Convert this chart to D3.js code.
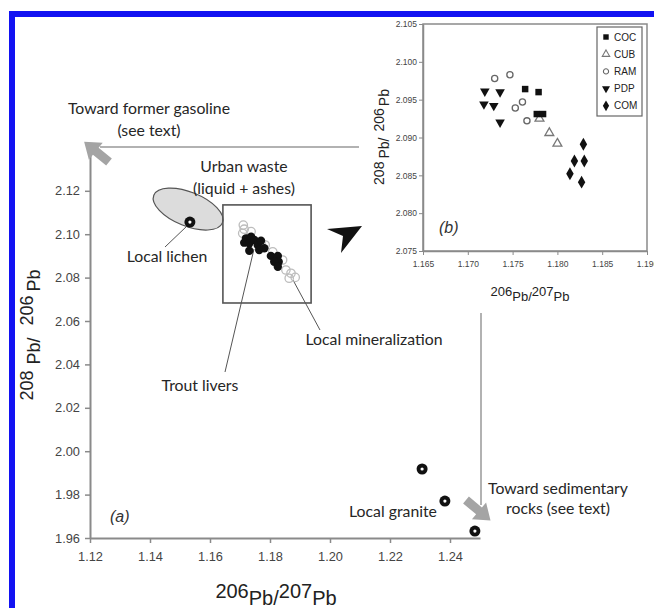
<!DOCTYPE html>
<html>
<head>
<meta charset="utf-8">
<script src="https://cdn.jsdelivr.net/npm/d3@7"></script>
<style>
  html, body { margin: 0; padding: 0; background: #fff; }
  svg { display: block; }
  .tick text { font-family: "Liberation Sans", Arial, sans-serif; fill: #444; }
  .note { font-family: Lato, "Open Sans", sans-serif; fill: #262626; font-size: 15.8px; }
</style>
</head>
<body>
<svg id="chart" width="654" height="608"></svg>
<script>
// main panel (a): 206Pb/207Pb vs 208Pb/206Pb
const mainXTicks = [1.12, 1.14, 1.16, 1.18, 1.20, 1.22, 1.24];
const mainYTicks = [1.96, 1.98, 2.00, 2.02, 2.04, 2.06, 2.08, 2.10, 2.12];

const troutLivers = [
  [1.1720, 2.0981], [1.1737, 2.0988], [1.1714, 2.0961], [1.1731, 2.0958],
  [1.1748, 2.0973], [1.1759, 2.0950], [1.1770, 2.0970], [1.1731, 2.0924],
  [1.1764, 2.0927], [1.1781, 2.0935], [1.1803, 2.0900], [1.1826, 2.0900],
  [1.1829, 2.0873], [1.1814, 2.0873], [1.1826, 2.0850]
];
const mineralization = [
  [1.1711, 2.1042], [1.1714, 2.1023], [1.1709, 2.1004], [1.1737, 2.1012],
  [1.1770, 2.0961], [1.1784, 2.0950], [1.1809, 2.0919], [1.1842, 2.0881],
  [1.1853, 2.0835], [1.1870, 2.0820], [1.1884, 2.0801], [1.1864, 2.0797]
];
const lichen = [[1.1533, 2.1056]];
const granite = [[1.2307, 1.9918], [1.2383, 1.9770], [1.2483, 1.9632]];

// inset panel (b)
const insetXTicks = [1.165, 1.170, 1.175, 1.180, 1.185, 1.190];
const insetYTicks = [2.075, 2.080, 2.085, 2.090, 2.095, 2.100, 2.105];
const sites = ['COC', 'CUB', 'RAM', 'PDP', 'COM'];
const COC = [[1.1764, 2.0964], [1.1779, 2.0960], [1.1777, 2.0931], [1.1784, 2.0931]];
const CUB = [[1.1780, 2.0925], [1.1791, 2.0906], [1.1800, 2.0892]];
const RAM = [[1.1730, 2.0978], [1.1747, 2.0983], [1.1761, 2.0947], [1.1753, 2.0939], [1.1766, 2.0922]];
const PDP = [[1.1719, 2.0961], [1.1736, 2.0960], [1.1718, 2.0944], [1.1729, 2.0942], [1.1736, 2.0920]];
const COM = [[1.1829, 2.0891], [1.1819, 2.0869], [1.1830, 2.0869], [1.1814, 2.0852], [1.1827, 2.0841]];

const svg = d3.select('#chart');

// blue frame, cut off at right and bottom
svg.append('rect')
  .attr('x', 12).attr('y', 14).attr('width', 700).attr('height', 700)
  .attr('fill', 'none').attr('stroke', '#1212f2').attr('stroke-width', 6);

const x = d3.scaleLinear().domain([1.12, 1.25]).range([90, 480]);
const y = d3.scaleLinear().domain([1.96, 2.1365]).range([538, 155]);

const axX = svg.append('g')
  .attr('transform', `translate(0,${y(1.96)})`)
  .call(d3.axisBottom(x).tickValues(mainXTicks).tickFormat(d3.format('.2f')).tickSize(5).tickPadding(9).tickSizeOuter(0));
const axY = svg.append('g')
  .attr('transform', `translate(${x(1.12)},0)`)
  .call(d3.axisLeft(y).tickValues(mainYTicks).tickFormat(d3.format('.2f')).tickSize(5).tickPadding(5).tickSizeOuter(0));
[axX, axY].forEach(a => {
  a.select('.domain').attr('stroke', '#8a8a8a').attr('stroke-width', 2);
  a.selectAll('.tick line').attr('stroke', '#8a8a8a').attr('stroke-width', 1.5);
  a.selectAll('.tick text').attr('font-size', 12.8);
});

// titles
svg.append('text')
  .attr('transform', 'translate(276,598)')
  .attr('text-anchor', 'middle')
  .attr('font-family', '"Liberation Sans", Arial, sans-serif')
  .attr('font-size', 20).attr('fill', '#222')
  .call(t => {
    t.append('tspan').text('206');
    t.append('tspan').attr('dy', 7).text('Pb/');
    t.append('tspan').attr('dy', -7).text('207');
    t.append('tspan').attr('dy', 7).text('Pb');
  });
svg.append('text')
  .attr('transform', 'translate(33,335) rotate(-90)')
  .attr('text-anchor', 'middle')
  .attr('font-family', '"Liberation Sans", Arial, sans-serif')
  .attr('font-size', 18).attr('fill', '#222')
  .call(t => {
    t.append('tspan').text('208');
    t.append('tspan').attr('dx', 6).attr('dy', 7).text('Pb/');
    t.append('tspan').attr('dx', 12).attr('dy', -7).text('206');
    t.append('tspan').attr('dx', 4).attr('dy', 7).text('Pb');
  });

// urban waste field
svg.append('ellipse')
  .attr('transform', `translate(${x(1.1527)},${y(2.1116)}) rotate(22)`)
  .attr('rx', 37).attr('ry', 17)
  .attr('fill', '#dcdcdc').attr('stroke', '#555').attr('stroke-width', 1.2);

// zoom box
const box = {x0: 1.1643, x1: 1.1937, y0: 2.0683, y1: 2.1135};
svg.append('rect')
  .attr('x', x(box.x0)).attr('y', y(box.y1))
  .attr('width', x(box.x1) - x(box.x0)).attr('height', y(box.y0) - y(box.y1))
  .attr('fill', 'none').attr('stroke', '#555').attr('stroke-width', 1.6);

// leader lines
const leaders = [[165, 247, 187, 226], [254, 249, 225, 372], [293, 280, 320, 330]];
svg.selectAll('line.leader')
  .data(leaders)
  .join('line')
  .attr('class', 'leader')
  .attr('x1', d => d[0]).attr('y1', d => d[1]).attr('x2', d => d[2]).attr('y2', d => d[3])
  .attr('stroke', '#555').attr('stroke-width', 1);

// points
svg.append('g').selectAll('circle')
  .data(mineralization)
  .join('circle')
  .attr('cx', d => x(d[0])).attr('cy', d => y(d[1])).attr('r', 4.2)
  .attr('fill', 'none').attr('stroke', '#bdbdbd').attr('stroke-width', 1.3);

const dots = svg.append('g');
dots.selectAll('circle.trout')
  .data(troutLivers)
  .join('circle')
  .attr('class', 'trout')
  .attr('cx', d => x(d[0])).attr('cy', d => y(d[1])).attr('r', 4.2)
  .attr('fill', '#111');
dots.selectAll('circle.big')
  .data(lichen.concat(granite))
  .join('circle')
  .attr('class', 'big')
  .attr('cx', d => x(d[0])).attr('cy', d => y(d[1])).attr('r', 5.5)
  .attr('fill', '#111');
dots.selectAll('circle.hole')
  .data(lichen.concat(granite))
  .join('circle')
  .attr('class', 'hole')
  .attr('cx', d => x(d[0])).attr('cy', d => y(d[1])).attr('r', 1.6)
  .attr('fill', '#fff');

// gray connector lines + fat arrows
svg.append('line')
  .attr('x1', 100).attr('y1', 147).attr('x2', 359).attr('y2', 147)
  .attr('stroke', '#999').attr('stroke-width', 1.5);
svg.append('line')
  .attr('x1', 481).attr('y1', 313).attr('x2', 481).attr('y2', 505)
  .attr('stroke', '#999').attr('stroke-width', 1.5);

const fatArrow = 'M0,-4.5 L17,-4.5 L17,-11 L32,0 L17,11 L17,4.5 L0,4.5 Z';
svg.append('path')
  .attr('d', fatArrow)
  .attr('transform', 'translate(109,162) rotate(-141)')
  .attr('fill', '#a4a4a4');
svg.append('path')
  .attr('d', fatArrow)
  .attr('transform', 'translate(466,500) rotate(40)')
  .attr('fill', '#a4a4a4');

// black pointer toward inset
svg.append('path')
  .attr('d', 'M362,226 L327,229 L343,236 L341,253 Z')
  .attr('fill', '#111');

// annotations
const notes = [
  ['Toward former gasoline', 149, 114],
  ['(see text)', 149, 136],
  ['Urban waste', 244, 172],
  ['(liquid + ashes)', 244, 194],
  ['Local lichen', 167, 262],
  ['Trout livers', 200, 391],
  ['Local mineralization', 374, 345],
  ['Local granite', 393, 517],
  ['Toward sedimentary', 558, 494],
  ['rocks (see text)', 558, 514]
];
svg.selectAll('text.note')
  .data(notes)
  .join('text')
  .attr('class', 'note')
  .attr('x', d => d[1]).attr('y', d => d[2])
  .attr('text-anchor', 'middle')
  .text(d => d[0]);

svg.append('text')
  .attr('x', 110).attr('y', 522)
  .attr('font-family', '"Liberation Sans", Arial, sans-serif')
  .attr('font-style', 'italic').attr('font-size', 16).attr('fill', '#333')
  .text('(a)');

// ---- inset (b)
const xi = d3.scaleLinear().domain([1.165, 1.19]).range([423, 647]);
const yi = d3.scaleLinear().domain([2.075, 2.105]).range([251, 24]);

svg.append('rect')
  .attr('x', xi(1.165)).attr('y', yi(2.105))
  .attr('width', xi(1.19) - xi(1.165)).attr('height', yi(2.075) - yi(2.105))
  .attr('fill', '#fff').attr('stroke', '#8a8a8a').attr('stroke-width', 1.5);

const axXi = svg.append('g')
  .attr('transform', `translate(0,${yi(2.075)})`)
  .call(d3.axisBottom(xi).tickValues(insetXTicks).tickFormat(d3.format('.3f')).tickSize(4).tickPadding(6).tickSizeOuter(0));
const axYi = svg.append('g')
  .attr('transform', `translate(${xi(1.165)},0)`)
  .call(d3.axisLeft(yi).tickValues(insetYTicks).tickFormat(d3.format('.3f')).tickSize(4).tickPadding(2).tickSizeOuter(0));
[axXi, axYi].forEach(a => {
  a.select('.domain').attr('stroke', '#8a8a8a').attr('stroke-width', 1.5);
  a.selectAll('.tick line').attr('stroke', '#8a8a8a');
  a.selectAll('.tick text').attr('font-size', 8.5);
});

svg.append('text')
  .attr('transform', 'translate(530,296)')
  .attr('text-anchor', 'middle')
  .attr('font-family', '"Liberation Sans", Arial, sans-serif')
  .attr('font-size', 13).attr('fill', '#222')
  .call(t => {
    t.append('tspan').text('206');
    t.append('tspan').attr('dy', 5).text('Pb/');
    t.append('tspan').attr('dy', -5).text('207');
    t.append('tspan').attr('dy', 5).text('Pb');
  });
svg.append('text')
  .attr('transform', 'translate(384,137) rotate(-90)')
  .attr('text-anchor', 'middle')
  .attr('font-family', '"Liberation Sans", Arial, sans-serif')
  .attr('font-size', 14).attr('fill', '#222')
  .call(t => {
    t.append('tspan').text('208');
    t.append('tspan').attr('dx', 3).attr('dy', 5).text('Pb/');
    t.append('tspan').attr('dx', 6).attr('dy', -5).text('206');
    t.append('tspan').attr('dx', 2).attr('dy', 5).text('Pb');
  });

svg.append('text')
  .attr('x', 439).attr('y', 233)
  .attr('font-family', '"Liberation Sans", Arial, sans-serif')
  .attr('font-style', 'italic').attr('font-size', 16).attr('fill', '#333')
  .text('(b)');

const siteStyle = {
  COC: {type: d3.symbolSquare, size: 42, rot: 0, fill: '#111', stroke: 'none'},
  CUB: {type: d3.symbolTriangle, size: 34, rot: 0, fill: 'none', stroke: '#777'},
  RAM: {type: d3.symbolCircle, size: 30, rot: 0, fill: 'none', stroke: '#666'},
  PDP: {type: d3.symbolTriangle, size: 40, rot: 180, fill: '#111', stroke: 'none'},
  COM: {type: d3.symbolDiamond, size: 48, rot: 0, fill: '#111', stroke: 'none'}
};
const siteData = {COC, CUB, RAM, PDP, COM};
const drawOrder = ['RAM', 'PDP', 'CUB', 'COC', 'COM'];

drawOrder.forEach(key => {
  const s = siteStyle[key];
  svg.append('g').selectAll('path')
    .data(siteData[key])
    .join('path')
    .attr('d', d3.symbol().type(s.type).size(s.size))
    .attr('transform', d => `translate(${xi(d[0])},${yi(d[1])}) rotate(${s.rot})`)
    .attr('fill', s.fill).attr('stroke', s.stroke).attr('stroke-width', 1.3);
});

// legend
const legend = svg.append('g');
legend.append('rect')
  .attr('x', 597).attr('y', 27).attr('width', 45).attr('height', 89)
  .attr('fill', '#fff').attr('stroke', '#666').attr('stroke-width', 1.2);
const li = legend.selectAll('g.item')
  .data(sites)
  .join('g')
  .attr('class', 'item')
  .attr('transform', (d, i) => `translate(606,${37 + i * 17.2})`);
li.append('path')
  .attr('d', d => d3.symbol().type(siteStyle[d].type).size(siteStyle[d].size * 0.7)())
  .attr('transform', d => `rotate(${siteStyle[d].rot})`)
  .attr('fill', d => siteStyle[d].fill).attr('stroke', d => siteStyle[d].stroke).attr('stroke-width', 1.1);
li.append('text')
  .attr('x', 8).attr('dy', '0.35em')
  .attr('font-family', '"Liberation Sans", Arial, sans-serif')
  .attr('font-size', 10).attr('fill', '#222')
  .text(d => d);
</script>
</body>
</html>
